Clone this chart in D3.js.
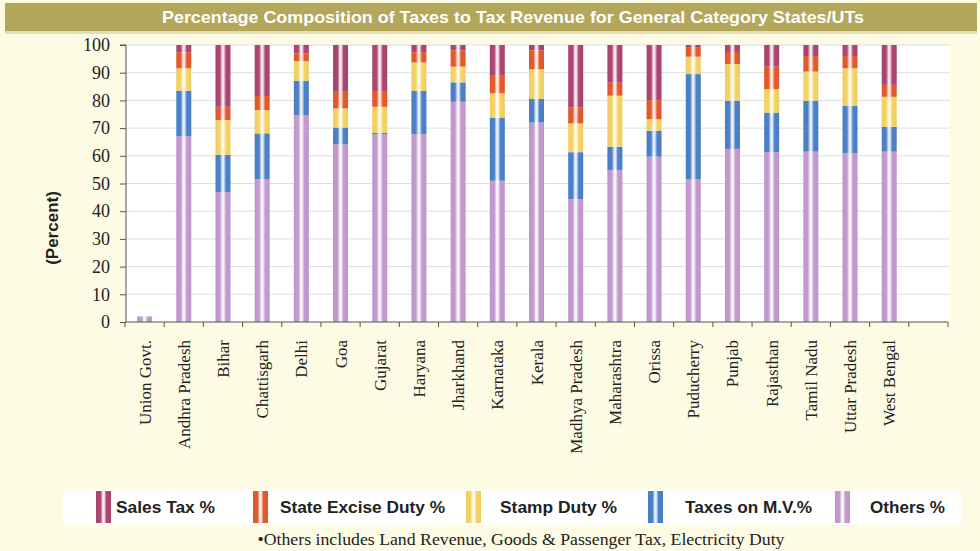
<!DOCTYPE html>
<html><head><meta charset="utf-8">
<script src="https://cdn.jsdelivr.net/npm/d3@7"></script>
<style>
html,body{margin:0;padding:0;background:#fdfbe3;}
svg{display:block;}
</style></head>
<body><svg id="c" width="980" height="551"></svg>
<script>
const categories = ["Union Govt.","Andhra Pradesh","Bihar","Chattisgarh","Delhi","Goa","Gujarat","Haryana","Jharkhand","Karnataka","Kerala","Madhya Pradesh","Maharashtra","Orissa","Puducherry","Punjab","Rajasthan","Tamil Nadu","Uttar Pradesh","West Bengal"];
const others  = [2.0, 67.0, 46.8, 51.6, 74.7, 64.1, 67.8, 67.8, 79.5, 51.0, 72.0, 44.3, 54.9, 59.7, 51.6, 62.5, 61.3, 61.5, 60.9, 61.5];
const taxesMV = [0.0, 16.5, 13.5, 16.5, 12.4,  6.1,  0.5, 15.6,  7.0, 22.8,  8.5, 17.0,  8.4,  9.3, 37.9, 17.4, 14.3, 18.4, 17.1,  9.0];
const stamp   = [0.0,  8.1, 12.6,  8.4,  7.1,  6.9,  9.4, 10.3,  5.7,  8.8, 10.8, 10.4, 18.4,  4.2,  6.3, 13.2,  8.5, 10.5, 13.6, 10.8];
const excise  = [0.0,  5.8,  4.8,  5.1,  2.8,  6.0,  5.7,  3.7,  5.8,  6.3,  6.7,  5.7,  4.7,  6.9,  3.2,  4.4,  8.1,  5.6,  4.4,  4.3];
const sales   = [0.0,  2.6, 22.3, 18.4,  3.0, 16.9, 16.6,  2.6,  2.0, 11.1,  2.0, 22.6, 13.6, 19.9,  1.0,  2.5,  7.8,  4.0,  4.0, 14.4];
const seriesNames = ["Sales Tax %","State Excise Duty %","Stamp Duty %","Taxes on M.V.%","Others %"];
const yTicks = [0,10,20,30,40,50,60,70,80,90,100];
const titleText = "Percentage Composition of Taxes to Tax Revenue for General Category States/UTs";
const footText = "•Others includes Land Revenue, Goods & Passenger Tax, Electricity Duty";

(function(){
const stackKeys = ["others","mv","stamp","excise","sales"];
const colors = {sales:"#ad4672", excise:"#e65a2c", stamp:"#f6d466", mv:"#4c82cb", others:"#c49bd0"};
const legendKeys = ["sales","excise","stamp","mv","others"];

const rows = categories.map((c,i)=>({cat:c, others:others[i], mv:taxesMV[i], stamp:stamp[i], excise:excise[i], sales:sales[i]}));

const svg = d3.select("#c");
const defs = svg.append("defs");
function lighten(c,k){return d3.interpolateRgb(c,"#ffffff")(k);}
stackKeys.forEach(k=>{
  const g = defs.append("linearGradient").attr("id","g_"+k).attr("x1","0").attr("x2","1").attr("y1","0").attr("y2","0");
  g.append("stop").attr("offset","0%").attr("stop-color",d3.color(colors[k]).darker(0.1));
  g.append("stop").attr("offset","30%").attr("stop-color",colors[k]);
  g.append("stop").attr("offset","44%").attr("stop-color",lighten(colors[k],0.8));
  g.append("stop").attr("offset","50%").attr("stop-color",lighten(colors[k],0.93));
  g.append("stop").attr("offset","56%").attr("stop-color",lighten(colors[k],0.8));
  g.append("stop").attr("offset","70%").attr("stop-color",colors[k]);
  g.append("stop").attr("offset","100%").attr("stop-color",d3.color(colors[k]).darker(0.1));
});

// title bar
svg.append("rect").attr("x",5).attr("y",3).attr("width",972).attr("height",28).attr("fill","#b3a75c");
svg.append("rect").attr("x",5).attr("y",31).attr("width",972).attr("height",3).attr("fill","#e4ddb0");
svg.append("text").attr("x",513).attr("y",23).attr("text-anchor","middle")
  .attr("font-family","Liberation Sans, Arial, sans-serif").attr("font-weight","bold").attr("font-size",17)
  .attr("fill","#ffffff").attr("textLength",702).attr("lengthAdjust","spacingAndGlyphs").text(titleText);

const pL=126, pR=950, pT=45, pB=322;
const slot = (948-125)/21;
const x = d3.scaleBand().domain(categories.concat(["_blank"])).range([125, 125+slot*21]).paddingInner(0).paddingOuter(0);
const y = d3.scaleLinear().domain([0,100]).range([pB, pT]);

// plot area
svg.append("rect").attr("x",pL).attr("y",pT).attr("width",pR-pL).attr("height",pB-pT).attr("fill","#ffffff");
// gridlines
svg.append("g").selectAll("line").data(yTicks.filter(d=>d>0)).join("line")
  .attr("x1",pL).attr("x2",pR).attr("y1",d=>y(d)).attr("y2",d=>y(d))
  .attr("stroke","#dedede").attr("stroke-width",1);

// bars
const stack = d3.stack().keys(stackKeys)(rows);
const barW = 15;
svg.append("g").selectAll("g").data(stack).join("g")
  .attr("fill",d=>"url(#g_"+d.key+")")
  .selectAll("rect").data(d=>d).join("rect")
  .attr("x",d=>x(d.data.cat)+x.bandwidth()/2-barW/2)
  .attr("width",barW)
  .attr("y",d=>y(d[1]))
  .attr("height",d=>Math.max(0,y(d[0])-y(d[1])));

// y axis
const yAxis = d3.axisLeft(y).tickValues(yTicks).tickSize(6).tickPadding(10);
const ya = svg.append("g").attr("transform",`translate(${pL},0)`).call(yAxis);
ya.select(".domain").attr("stroke","#555").attr("d",`M-6,${pT}H0V${pB}`);
ya.selectAll(".tick line").attr("stroke","#555");
ya.selectAll("text").attr("font-family","Liberation Serif, Times New Roman, serif").attr("font-size",18).attr("fill","#222");

// x axis
const xa = svg.append("g");
xa.append("line").attr("x1",pL).attr("x2",x.range()[1]).attr("y1",pB).attr("y2",pB).attr("stroke","#555");
const bounds = d3.range(22).map(i=>x.range()[0]+i*slot);
xa.selectAll("line.t").data(bounds).join("line").attr("class","t")
  .attr("x1",d=>d).attr("x2",d=>d).attr("y1",pB).attr("y2",pB+5).attr("stroke","#555");
xa.selectAll("text").data(categories).join("text")
  .attr("transform",d=>`translate(${x(d)+x.bandwidth()/2+6},340) rotate(-90)`)
  .attr("text-anchor","end")
  .attr("font-family","Liberation Serif, Times New Roman, serif").attr("font-size",17).attr("fill","#222")
  .text(d=>d);

// y title
svg.append("text").attr("transform","translate(58,228) rotate(-90)").attr("text-anchor","middle")
  .attr("font-family","Liberation Sans, Arial, sans-serif").attr("font-weight","bold").attr("font-size",17).attr("fill","#222")
  .text("(Percent)");

// legend
svg.append("rect").attr("x",63).attr("y",489).attr("width",898).attr("height",36).attr("rx",3).attr("fill","#ffffff");
const legX = [{sw:96,tx:116},{sw:253,tx:280},{sw:466,tx:500},{sw:648,tx:685},{sw:835,tx:870}];
const legW = [99,165,117,127,75];
const lg = svg.append("g").selectAll("g").data(legendKeys).join("g");
lg.append("rect").attr("x",(d,i)=>legX[i].sw).attr("y",491).attr("width",15).attr("height",32).attr("fill",d=>"url(#g_"+d+")");
lg.append("text").attr("x",(d,i)=>legX[i].tx).attr("y",513)
  .attr("font-family","Liberation Sans, Arial, sans-serif").attr("font-weight","bold").attr("font-size",17).attr("fill","#222")
  .attr("textLength",(d,i)=>legW[i]).attr("lengthAdjust","spacingAndGlyphs")
  .text((d,i)=>seriesNames[i]);

svg.append("text").attr("x",521).attr("y",545).attr("text-anchor","middle")
  .attr("font-family","Liberation Serif, Times New Roman, serif").attr("font-size",16.5).attr("fill","#222")
  .attr("textLength",527).attr("lengthAdjust","spacingAndGlyphs").text(footText);
})();
</script></body></html>
